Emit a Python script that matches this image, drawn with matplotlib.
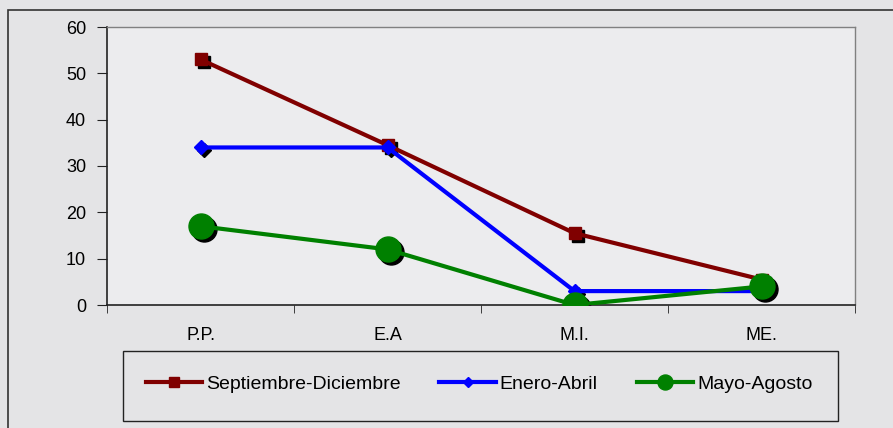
import matplotlib
matplotlib.use('Agg')
import matplotlib.pyplot as plt
import matplotlib.transforms as mtransforms
from matplotlib.patches import Rectangle

plt.rcParams['font.family'] = ['Liberation Sans', 'DejaVu Sans']

categories = ['P.P.', 'E.A', 'M.I.', 'ME.']
sep_dic = [53, 34.5, 15.5, 5.5]
ene_abr = [34, 34, 3, 3]
may_ago = [17, 12, 0, 4]

series = [
    ('Septiembre-Diciembre', sep_dic, '#800000', 's', 9),
    ('Enero-Abril', ene_abr, '#0000ff', 'D', 7),
    ('Mayo-Agosto', may_ago, '#008000', 'o', 18),
]

fig = plt.figure(figsize=(8.93, 4.28), dpi=100)
bg = '#e4e4e6'
fig.patch.set_facecolor(bg)

# outer chart border
fig.patches.append(Rectangle((8 / 893, -0.05), 1.0, 1 - 10 / 428 + 0.05,
                             transform=fig.transFigure, fill=False,
                             edgecolor='#333333', lw=1.2))

ax = fig.add_axes([107 / 893, 1 - 305 / 428, (855 - 107) / 893, (305 - 27) / 428])
ax.set_facecolor('#ececee')

x = list(range(len(categories)))
# black drop shadow under the markers
shadow = mtransforms.offset_copy(ax.transData, fig=fig, x=3, y=-3, units='dots')

for name, vals, color, marker, ms in series:
    ax.plot(x, vals, linestyle='none', marker=marker, markersize=ms,
            color='black', transform=shadow, zorder=2)
    ax.plot(x, vals, color=color, lw=3, marker=marker, markersize=ms,
            markeredgecolor=color, zorder=3, label=name)

ax.set_xlim(-0.5, len(categories) - 0.5)
ax.set_ylim(0, 60)
ax.set_yticks(range(0, 61, 10))
ax.set_xticks(x)
ax.set_xticklabels(categories)
ax.set_xticks([i - 0.5 for i in range(len(categories) + 1)], minor=True)
ax.tick_params(axis='x', which='major', length=0, pad=16, labelsize=13)
ax.tick_params(axis='x', which='minor', length=6, direction='out', color='#222222')
ax.tick_params(axis='y', length=7, direction='out', labelsize=13, pad=8, color='#222222')

for side in ['top', 'right']:
    ax.spines[side].set_color('#808080')
    ax.spines[side].set_linewidth(1)
for side in ['left', 'bottom']:
    ax.spines[side].set_color('#222222')
    ax.spines[side].set_linewidth(1.2)

# legend box
fig.patches.append(Rectangle((123 / 893, 1 - 421 / 428), (838 - 123) / 893, 70 / 428,
                             transform=fig.transFigure, fill=False,
                             edgecolor='#222222', lw=1))
leg_handles = []
for name, vals, color, marker, ms in series:
    leg_handles.append(plt.Line2D([], [], color=color, lw=3, marker=marker,
                                  markersize=ms * 0.6 if marker == 'o' else ms * 0.8,
                                  label=name))
fig.legend(handles=leg_handles, loc='center', bbox_to_anchor=(479 / 893, 1 - 384 / 428),
           ncol=3, frameon=False, fontsize=14, handlelength=2.9, handletextpad=0.2,
           columnspacing=2.0)

fig.savefig('out.png', dpi=100, facecolor=bg)
